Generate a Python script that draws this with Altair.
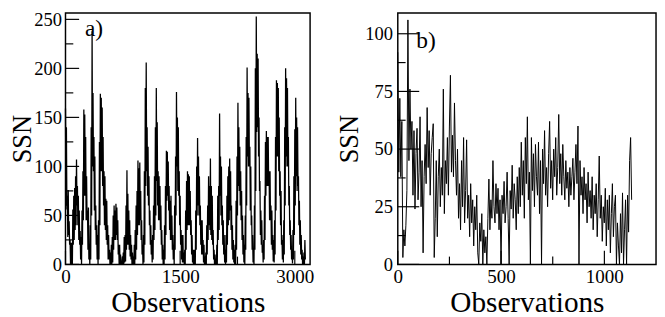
import altair as alt
import pandas as pd

# ---- panel a): envelope (max, min) of the monthly SSN, one pair per 12 observations
A_HI = [159, 140, 70, 76, 44, 25, 22, 22, 56, 70,
        78, 90, 107, 80, 70, 55, 34, 28, 55, 95,
        158, 153, 130, 90, 55, 58, 20, 40, 140, 238,
        175, 130, 110, 60, 40, 30, 45, 125, 174, 170,
        160, 130, 95, 90, 67, 65, 40, 30, 15, 12,
        20, 28, 50, 60, 55, 62, 58, 45, 20, 20,
        10, 2, 8, 12, 28, 30, 60, 96, 72, 55,
        45, 30, 20, 12, 8, 20, 35, 60, 75, 106,
        98, 104, 75, 45, 20, 30, 95, 180, 206, 140,
        120, 90, 55, 40, 25, 30, 60, 90, 140, 180,
        145, 95, 90, 80, 60, 35, 20, 15, 40, 80,
        116, 115, 105, 80, 65, 70, 50, 30, 20, 60,
        110, 176, 150, 140, 95, 70, 35, 30, 30, 12,
        15, 55, 85, 95, 92, 90, 75, 45, 30, 15,
        15, 15, 55, 100, 129, 110, 90, 60, 45, 45,
        25, 20, 8, 12, 40, 60, 90, 80, 108, 80,
        70, 35, 15, 10, 5, 20, 70, 80, 154, 110,
        100, 60, 45, 30, 15, 30, 70, 90, 100, 108,
        95, 60, 40, 25, 15, 20, 65, 110, 165, 140,
        120, 95, 75, 50, 30, 20, 50, 130, 201, 175,
        170, 120, 100, 50, 30, 15, 60, 200, 253, 215,
        210, 150, 85, 55, 45, 20, 25, 70, 125, 136,
        130, 130, 95, 95, 60, 55, 30, 25, 45, 130,
        188, 185, 180, 150, 95, 75, 30, 25, 45, 140,
        200, 190, 180, 130, 80, 45, 30, 15, 35, 90,
        138, 170, 150, 140, 90, 65, 45, 30, 15, 8,
        12, 25]
A_LO = [56, 60, 28, 30, 20, 0, 0, 0, 20, 25,
        35, 40, 60, 40, 25, 20, 5, 0, 20, 45,
        70, 70, 45, 45, 15, 5, 0, 5, 50, 100,
        95, 55, 35, 20, 5, 0, 5, 40, 95, 95,
        80, 60, 40, 35, 25, 20, 5, 5, 0, 0,
        0, 2, 15, 25, 25, 30, 25, 10, 0, 0,
        0, 0, 0, 0, 2, 3, 15, 20, 20, 15,
        8, 5, 0, 0, 0, 0, 5, 15, 30, 40,
        40, 45, 25, 10, 0, 2, 20, 80, 95, 70,
        60, 40, 20, 10, 2, 5, 25, 35, 50, 85,
        60, 45, 45, 35, 20, 5, 0, 0, 5, 30,
        65, 70, 55, 35, 25, 25, 15, 5, 0, 15,
        50, 100, 75, 70, 40, 20, 5, 2, 2, 0,
        0, 15, 35, 40, 40, 40, 30, 10, 2, 0,
        0, 0, 15, 50, 60, 50, 40, 20, 10, 10,
        2, 0, 0, 0, 10, 25, 40, 35, 30, 25,
        20, 5, 0, 0, 0, 0, 25, 35, 70, 50,
        40, 20, 10, 2, 0, 2, 20, 40, 45, 55,
        35, 15, 5, 2, 0, 0, 15, 50, 80, 75,
        60, 45, 25, 10, 2, 0, 15, 60, 110, 100,
        100, 55, 40, 15, 2, 0, 15, 75, 135, 140,
        110, 75, 30, 20, 12, 2, 5, 25, 70, 80,
        80, 80, 45, 45, 20, 15, 3, 2, 10, 55,
        110, 110, 95, 70, 40, 20, 5, 2, 10, 60,
        110, 100, 100, 60, 30, 15, 5, 1, 5, 30,
        60, 90, 75, 80, 40, 20, 10, 5, 0, 0,
        0, 5]
A_STEP = 12

# ---- panel b): SSN sampled along the record
B_VAL = [92, 40, 72, 38, 62, 3, 15, 8, 17, 32,
         106, 45, 76, 50, 62, 30, 58, 24, 48, 59,
         28, 40, 64, 25, 45, 5, 38, 52, 35, 68,
         42, 58, 30, 48, 55, 61, 3, 20, 45, 12,
         38, 50, 25, 42, 30, 76, 22, 45, 35, 55,
         30, 60, 82, 40, 56, 38, 70, 45, 30, 50,
         20, 35, 15, 45, 25, 55, 18, 32, 54, 20,
         30, 12, 35, 18, 28, 8, 25, 15, 30, 5,
         0, 18, 10, 22, 0, 15, 5, 12, 0, 20,
         37, 15, 28, 20, 45, 25, 18, 35, 22, 33,
         15, 28, 0, 30, 22, 36, 18, 25, 40, 20,
         0, 32, 24, 43, 20, 35, 28, 15, 38, 22,
         42, 25, 53, 30, 45, 20, 55, 35, 64, 28,
         40, 0, 55, 32, 48, 25, 52, 38, 30, 53,
         22, 45, 0, 50, 35, 58, 30, 42, 25, 48,
         62, 33, 45, 28, 50, 38, 55, 30, 42, 65,
         35, 48, 30, 52, 38, 28, 45, 33, 40, 25,
         42, 30, 38, 46, 28, 40, 52, 35, 60, 0,
         45, 30, 38, 22, 42, 28, 35, 18, 40, 25,
         32, 20, 38, 15, 30, 22, 35, 12, 28, 47,
         20, 30, 10, 25, 18, 33, 8, 28, 15, 30,
         5, 22, 35, 12, 25, 30, 0, 18, 8, 0,
         22, 5, 31, 0, 15, 28, 0, 30, 14, 45,
         55, 28]
B_STEP = 4.9

A_Y_MAJOR = [0, 50, 100, 150, 200, 250]
A_Y_MINOR = [25, 75, 125, 175, 225]
A_X_MAJOR = [0, 1500, 3000]
A_X_MINOR = [750, 2250]
B_Y_MAJOR = [0, 25, 50, 75, 100]
B_Y_MINOR = [12.5, 37.5, 62.5, 87.5]
B_X_MAJOR = [0, 500, 1000]
B_X_MINOR = [250, 750]
TAGS = ["a)", "b)"]

FONT = "Liberation Serif"

rows = []
for i, (h, l) in enumerate(zip(A_HI, A_LO)):
    rows.append({"obs": A_STEP * i, "ssn": h})
    rows.append({"obs": A_STEP * i + A_STEP // 2, "ssn": l})
df_a = pd.DataFrame(rows)
df_b = pd.DataFrame({"obs": [B_STEP * k for k in range(len(B_VAL))], "ssn": B_VAL})


def panel(df, xdom, ydom, xmaj, xmin, ymaj, ymin, w, h, tag, tagx, tagy,
          ymaj_len, title_pad, label_pad, line_w):
    xs = alt.Scale(domain=xdom, nice=False, zero=False)
    ys = alt.Scale(domain=ydom, nice=False, zero=False)
    xax = alt.Axis(values=xmaj, title="Observations", labelFlush=False,
                   labelPadding=4, titlePadding=2, titleFontSize=30,
                   labelFontSize=19.5, format="d")
    yax = alt.Axis(values=ymaj, title="SSN", labelPadding=label_pad,
                   titlePadding=title_pad, titleFontSize=27,
                   labelFontSize=19, format="d")
    line = alt.Chart(df).mark_line(color="black", strokeWidth=line_w).encode(
        x=alt.X("obs:Q", scale=xs, axis=xax),
        y=alt.Y("ssn:Q", scale=ys, axis=yax),
    )
    layers = [line]

    def yt(vals, length):
        return alt.Chart(pd.DataFrame({"ssn": vals})).mark_rule(
            color="black", strokeWidth=1.2).encode(
            y=alt.Y("ssn:Q", scale=ys, axis=yax),
            x=alt.value(0), x2=alt.value(length))

    def xt(vals, length):
        return alt.Chart(pd.DataFrame({"obs": vals})).mark_rule(
            color="black", strokeWidth=1.2).encode(
            x=alt.X("obs:Q", scale=xs, axis=xax),
            y=alt.value(h), y2=alt.value(h - length))

    layers += [yt(ymaj, ymaj_len), yt(ymin, 8), xt(xmaj, 14), xt(xmin, 8)]
    txt = alt.Chart(pd.DataFrame({"t": [tag]})).mark_text(
        font=FONT, fontSize=24, align="left", baseline="alphabetic", color="black"
    ).encode(text="t:N", x=alt.value(tagx), y=alt.value(tagy))
    layers.append(txt)
    return alt.layer(*layers).properties(width=w, height=h)


pa = panel(df_a, [0, 3200], [0, 256.5], A_X_MAJOR, A_X_MINOR, A_Y_MAJOR, A_Y_MINOR,
           251, 258, TAGS[0], 20, 24, 14, -3, 4, 1.3)
pb = panel(df_b, [0, 1250], [0, 109], B_X_MAJOR, B_X_MINOR, B_Y_MAJOR, B_Y_MINOR,
           265, 258, TAGS[1], 19, 36, 22, 1.5, 5.5, 1)

chart = alt.hconcat(pa, pb, spacing=90, bounds="flush").properties(
    padding={"left": 0, "top": -3, "right": 0, "bottom": 0}
).configure_axis(
    labelFont=FONT, labelColor="black",
    titleFont=FONT, titleFontWeight="normal", titleColor="black",
    ticks=False, tickSize=0, domain=False, grid=False
).configure_view(stroke="black", strokeWidth=1.5)

chart.save("out.html", embed_options={"renderer": "svg", "actions": False})
